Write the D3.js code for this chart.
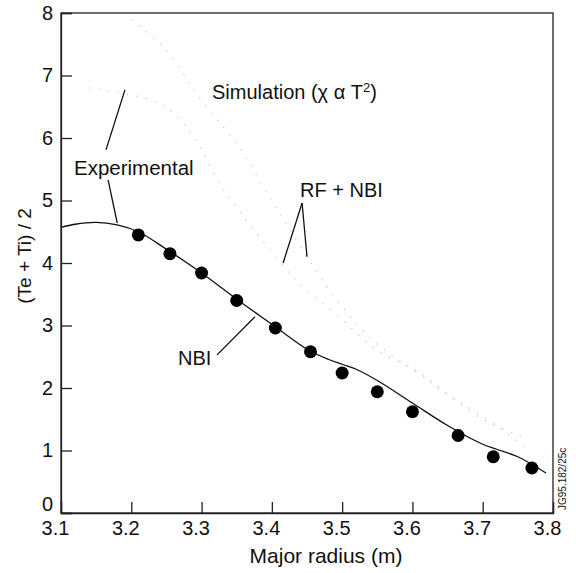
<!DOCTYPE html>
<html>
<head>
<meta charset="utf-8">
<script src="https://cdn.jsdelivr.net/npm/d3@7"></script>
<style>
  body { margin: 0; background: #fff; }
  text { font-family: "Liberation Sans", Arial, sans-serif; fill: #111; }
</style>
</head>
<body>
<div id="chart"></div>
<script>
let width = 576;
let height = 573;

// experimental NBI profile (solid line)
const expR = [3.10, 3.12, 3.15, 3.18, 3.21, 3.25, 3.30, 3.35, 3.40, 3.45, 3.48, 3.50, 3.52, 3.55, 3.60, 3.65, 3.70, 3.72, 3.75, 3.79];
const expT = [4.57, 4.62, 4.65, 4.61, 4.50, 4.22, 3.84, 3.42, 3.02, 2.62, 2.46, 2.38, 2.30, 2.12, 1.76, 1.40, 1.10, 1.02, 0.90, 0.64];

// simulation NBI (filled circles)
const simR = [3.21, 3.255, 3.30, 3.35, 3.405, 3.455, 3.50, 3.55, 3.60, 3.665, 3.715, 3.77];
const simT = [4.45, 4.15, 3.84, 3.40, 2.96, 2.58, 2.24, 1.94, 1.62, 1.24, 0.90, 0.72];

// faint RF + NBI curves
const rfExpR = [3.20, 3.25, 3.30, 3.35, 3.40, 3.45, 3.50, 3.55, 3.60, 3.65, 3.70, 3.76];
const rfExpT = [7.9, 7.4, 6.6, 5.9, 5.0, 4.1, 3.3, 2.7, 2.3, 1.9, 1.5, 1.2];
const rfSimR = [3.14, 3.23, 3.26, 3.29, 3.33, 3.37, 3.42, 3.45, 3.49, 3.55, 3.61, 3.65, 3.72, 3.76];
const rfSimT = [6.8, 6.6, 6.4, 6.0, 5.2, 4.6, 3.9, 3.55, 3.2, 2.6, 2.25, 1.9, 1.4, 1.05];

const xTicks = [3.1, 3.2, 3.3, 3.4, 3.5, 3.6, 3.7, 3.8];
const yTicks = [0, 1, 2, 3, 4, 5, 6, 7, 8];

// pointer lines, in data units [r1, t1, r2, t2]
const pointers = [
  [3.164, 5.81, 3.191, 6.77],
  [3.167, 5.33, 3.180, 4.64],
  [3.322, 2.53, 3.376, 3.14],
  [3.443, 4.96, 3.416, 4.00],
  [3.443, 4.96, 3.450, 4.10]
];

let svg = d3.select("#chart")
            .append("svg")
            .attr("width", width)
            .attr("height", height);

let xScale = d3.scaleLinear().domain([3.1, 3.8]).range([61, 553]);
let yScale = d3.scaleLinear().domain([0, 8]).range([513, 13]);

let line = d3.line()
             .x(d => xScale(d[0]))
             .y(d => yScale(d[1]))
             .curve(d3.curveCatmullRom);

// faint dotted simulation curves
[[rfExpR, rfExpT], [rfSimR, rfSimT]].forEach(([rs, ts]) => {
  svg.append("path")
     .datum(rs.map((r, i) => [r, ts[i]]))
     .attr("d", line)
     .attr("fill", "none")
     .attr("stroke", "#d0d0d0")
     .attr("stroke-width", 1.3)
     .attr("stroke-dasharray", "1.5,8");
});

svg.append("path")
   .datum(expR.map((r, i) => [r, expT[i]]))
   .attr("d", line)
   .attr("fill", "none")
   .attr("stroke", "#111")
   .attr("stroke-width", 1.3);

svg.selectAll("circle")
   .data(simR.map((r, i) => [r, simT[i]]))
   .enter()
   .append("circle")
   .attr("cx", d => xScale(d[0]))
   .attr("cy", d => yScale(d[1]))
   .attr("r", 6.5)
   .attr("fill", "#000");

svg.selectAll(".pointer")
   .data(pointers)
   .enter()
   .append("line")
   .attr("class", "pointer")
   .attr("x1", d => xScale(d[0]))
   .attr("y1", d => yScale(d[1]))
   .attr("x2", d => xScale(d[2]))
   .attr("y2", d => yScale(d[3]))
   .attr("stroke", "#111")
   .attr("stroke-width", 1.3);

// frame
svg.append("rect")
   .attr("x", xScale(3.1))
   .attr("y", yScale(8))
   .attr("width", xScale(3.8) - xScale(3.1))
   .attr("height", yScale(0) - yScale(8))
   .attr("fill", "none")
   .attr("stroke", "#222")
   .attr("stroke-width", 1.3);

let xAxis = d3.axisBottom(xScale).tickValues(xTicks).tickSize(-11).tickPadding(8)
              .tickFormat(d3.format(".1f"));
let gx = svg.append("g")
   .attr("transform", `translate(0, ${yScale(0)})`)
   .call(xAxis);
gx.selectAll("text").attr("dx", -6);

let yAxis = d3.axisLeft(yScale).tickValues(yTicks).tickSize(-11).tickPadding(8);
let gy = svg.append("g")
   .attr("transform", `translate(${xScale(3.1)}, 0)`)
   .call(yAxis);
gy.selectAll(".tick text").filter(d => d === 0).attr("dy", "-0.12em");

[gx, gy].forEach(g => {
  g.select(".domain").attr("stroke", "#222").attr("stroke-width", 1.3);
  g.selectAll(".tick line").attr("stroke", "#222").attr("stroke-width", 1.3);
  g.selectAll("text").style("font-size", "20px")
   .style("font-family", "'Liberation Sans', Arial, sans-serif").attr("fill", "#111");
});

// labels
svg.append("text")
   .attr("x", 326)
   .attr("y", 563)
   .attr("text-anchor", "middle")
   .style("font-size", "21px")
   .text("Major radius (m)");

svg.append("text")
   .attr("transform", "translate(31, 256) rotate(-90)")
   .attr("text-anchor", "middle")
   .style("font-size", "19px")
   .text("(Te + Ti) / 2");

let sim = svg.append("text")
   .attr("x", 212)
   .attr("y", 99)
   .style("font-size", "20px")
   .text("Simulation (\u03c7 \u03b1 T");
sim.append("tspan").attr("dy", -7).style("font-size", "13px").text("2");
sim.append("tspan").attr("dy", 7).text(")");

svg.append("text").attr("x", 74).attr("y", 175).style("font-size", "20.5px").text("Experimental");
svg.append("text").attr("x", 300).attr("y", 197).style("font-size", "20px").text("RF + NBI");
svg.append("text").attr("x", 178).attr("y", 365).style("font-size", "20px").text("NBI");

svg.append("text")
   .attr("transform", "translate(566, 510) rotate(-90)")
   .style("font-size", "10px")
   .text("JG95.182/25c");
</script>
</body>
</html>
